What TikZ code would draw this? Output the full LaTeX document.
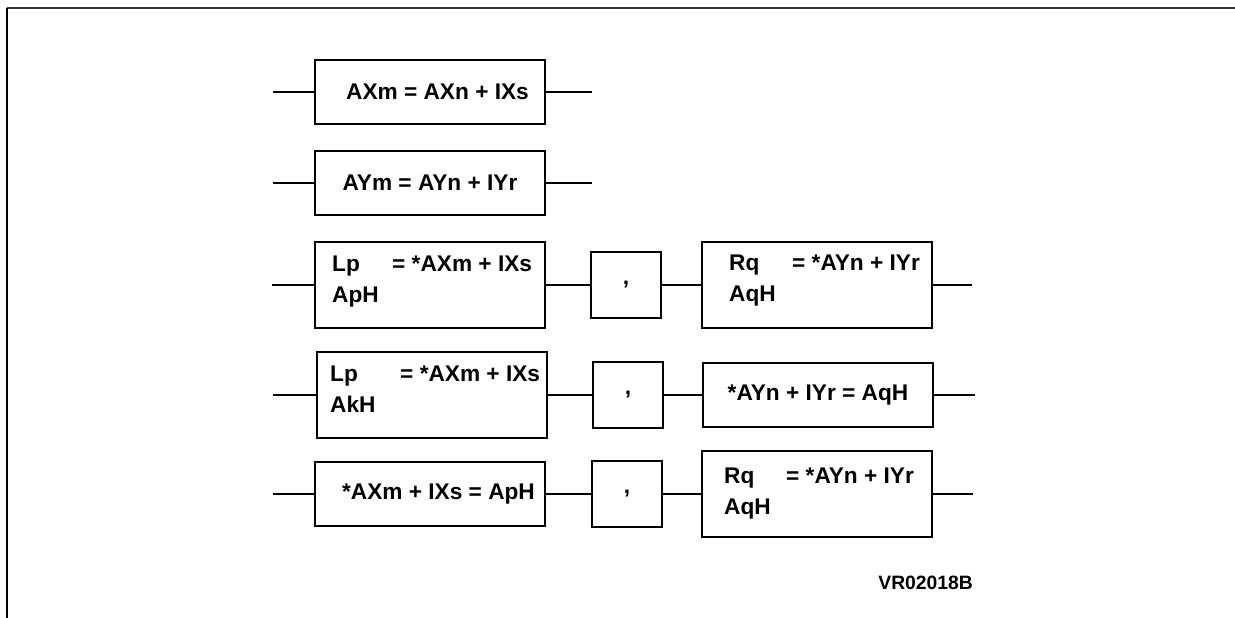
\documentclass[tikz,border=0pt]{standalone}
\usepackage{fontspec}
\setmainfont{Liberation Sans}
\usepackage{tikz}
\usetikzlibrary{calc,positioning}

\begin{document}
\begin{tikzpicture}[
    blk/.style={rectangle, draw=black, line width=1.3pt, minimum width=4.6cm, minimum height=1.28cm, inner sep=0pt, align=center, font=\bfseries\fontsize{12.9}{17.8}\selectfont},
    tallblk/.style={rectangle, draw=black, line width=1.3pt, minimum width=4.6cm, minimum height=1.72cm, inner sep=0pt},
    sepblk/.style={rectangle, draw=black, line width=1.3pt, minimum width=1.4cm, minimum height=1.32cm, inner sep=0pt, font=\bfseries\fontsize{12.9}{17.8}\selectfont},
    txt/.style={inner sep=0pt, anchor=base west, font=\bfseries\fontsize{12.9}{17.8}\selectfont},
    wire/.style={line width=1.3pt}
]
    \useasboundingbox (0,0) rectangle (24.7,-12.36);
    \draw[line width=1.6pt, draw=black!80] (0.14,-0.16) -- (24.7,-0.16);
    \draw[line width=1.1pt] (0.14,-0.16) -- (0.14,-12.36);

    % single assignments
    \node[blk] (b1) at (8.6,-1.84) {\hspace*{0.3cm}AXm = AXn + IXs};
    \node[blk] (b2) at (8.6,-3.66) {AYm = AYn + IYr};
    \coordinate (in1) at (5.46,-1.84);
    \coordinate (out1) at (11.84,-1.84);
    \coordinate (in2) at (5.46,-3.66);
    \coordinate (out2) at (11.84,-3.66);
    \draw[wire] (in1) -- (b1) (b1) -- (out1);
    \draw[wire] (in2) -- (b2) (b2) -- (out2);

    % row 3
    \node[tallblk] (l3) at (8.6,-5.7) {};
    \node[sepblk] (c3) at (12.52,-5.7) {,};
    \node[tallblk] (r3) at (16.34,-5.7) {};
    \node[txt] (l3t) at ([xshift=0.36cm, yshift=-0.61cm]l3.north west) {\begin{tabular}[t]{@{}p{1.2cm}@{}l@{}}Lp & = *AXm + IXs\\ApH\end{tabular}};
    \node[txt] (r3t) at ([xshift=0.56cm, yshift=-0.59cm]r3.north west) {\begin{tabular}[t]{@{}p{1.26cm}@{}l@{}}Rq & = *AYn + IYr\\AqH\end{tabular}};
    \coordinate (in3) at (5.44,-5.7);
    \coordinate (out3) at (19.44,-5.7);
    \draw[wire] (in3) -- (l3) (l3) -- (c3) (c3) -- (r3) (r3) -- (out3);

    % row 4
    \node[tallblk] (l4) at (8.64,-7.9) {};
    \node[sepblk] (c4) at (12.56,-7.9) {,};
    \node[blk] (r4) at (16.36,-7.9) {*AYn + IYr = AqH};
    \node[txt] (l4t) at ([xshift=0.28cm, yshift=-0.61cm]l4.north west) {\begin{tabular}[t]{@{}p{1.4cm}@{}l@{}}Lp & = *AXm + IXs\\AkH\end{tabular}};
    \coordinate (in4) at (5.46,-7.9);
    \coordinate (out4) at (19.5,-7.9);
    \draw[wire] (in4) -- (l4) (l4) -- (c4) (c4) -- (r4) (r4) -- (out4);

    % row 5
    \node[blk] (l5) at (8.6,-9.88) {\hspace*{0.34cm}*AXm + IXs = ApH};
    \node[sepblk] (c5) at (12.54,-9.88) {,};
    \node[tallblk] (r5) at (16.34,-9.88) {};
    \node[txt] (r5t) at ([xshift=0.46cm, yshift=-0.67cm]r5.north west) {\begin{tabular}[t]{@{}p{1.24cm}@{}l@{}}Rq & = *AYn + IYr\\AqH\end{tabular}};
    \coordinate (in5) at (5.46,-9.88);
    \coordinate (out5) at (19.46,-9.88);
    \draw[wire] (in5) -- (l5) (l5) -- (c5) (c5) -- (r5) (r5) -- (out5);

    \node[inner sep=0pt, anchor=west, font=\bfseries\fontsize{11}{13}\selectfont] (tag) at (17.56,-11.66) {VR02018B};
\end{tikzpicture}
\end{document}
